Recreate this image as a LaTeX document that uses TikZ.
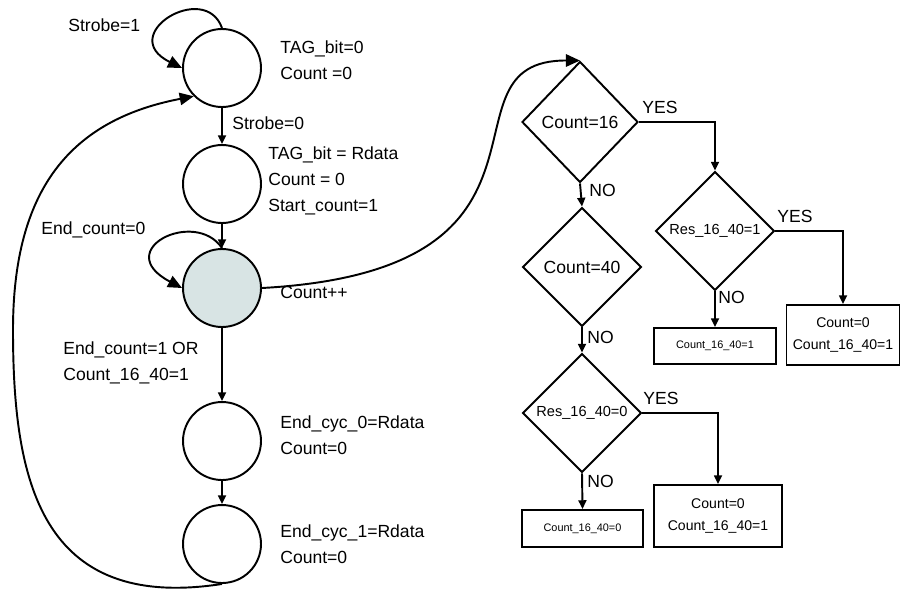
\documentclass[tikz,border=0pt]{standalone}
\usepackage{fontspec}
\setmainfont{Liberation Sans}
\usetikzlibrary{arrows.meta,shapes.geometric}
\definecolor{busyfill}{RGB}{216,228,228}

\begin{document}
\begin{tikzpicture}[
  x=0.02cm, y=-0.02cm,
  state/.style  = {circle, draw, line width=1.1pt, minimum size=1.56cm, inner sep=0pt},
  decide/.style = {diamond, draw, line width=1.1pt, minimum width=2.38cm,
                   minimum height=2.38cm, inner sep=0pt, font=\fontsize{10}{12}\selectfont},
  act/.style    = {draw, line width=1.1pt, inner sep=0pt, align=center},
  lbl/.style    = {anchor=west, align=left, inner sep=0pt, font=\fontsize{10}{14.7}\selectfont},
  wire/.style   = {line width=1.1pt, -{Triangle[length=5pt,width=4.5pt]}},
  bigwire/.style= {line width=1.1pt, -{Triangle[length=8pt,width=7pt]}},
]
\useasboundingbox (0,0) rectangle (901,589);

% ========== State machine (left) ==========
\node[state] (S1) at (222,68) {};
\node[state] (S2) at (222,184) {};
\node[state, fill=busyfill] (S3) at (222,288) {};
\node[state] (S4) at (222,441) {};
\node[state] (S5) at (222,544) {};

\node[lbl] (l1) at (68,25) {Strobe=1};
\node[lbl] (o1) at (280,60.5) {TAG\_bit=0\\Count =0};
\node[lbl] (l2) at (232,123) {Strobe=0};
\node[lbl] (o2) at (268,181) {TAG\_bit = Rdata\\Count = 0\\Start\_count=1};
\node[lbl] (l3) at (41,230) {End\_count=0};
\node[lbl] (l4) at (280,292) {Count++};
\node[lbl] (l5) at (63,363) {End\_count=1 OR\\Count\_16\_40=1};
\node[lbl] (o4) at (280,435.5) {End\_cyc\_0=Rdata\\Count=0};
\node[lbl] (o5) at (280,544) {End\_cyc\_1=Rdata\\Count=0};

\draw[wire] (S1) -- (S2);
\draw[wire] (S2) -- (S3);
\draw[wire] (S3) -- (S4);
\draw[wire] (S4) -- (S5);

% self loops
\draw[bigwire] (S1.north) .. controls (205,-20) and (115,35) .. (S1.west);
\draw[bigwire] (S3.north) .. controls (195,208) and (110,250) .. (S3.west);

% back to idle
\coordinate (far) at (13,330);
\draw[bigwire] (S5.south) .. controls (40,612) and (13,480) .. (far)
  .. controls (13,190) and (70,120) .. (S1.south west);

% ========== Counter checks (right) ==========
\node[decide, minimum width=2.32cm, minimum height=2.42cm] (D1) at (580,122) {Count=16};
\node[decide, font=\fontsize{8.3}{10}\selectfont] (D2) at (715,231) {Res\_16\_40=1};
\node[decide] (D3) at (582,267) {Count=40};
\node[decide, font=\fontsize{8.3}{10}\selectfont] (D4) at (582,413) {Res\_16\_40=0};

\node[act, minimum width=2.44cm, minimum height=0.72cm, font=\fontsize{6.2}{8}\selectfont]
  (B1) at (715,346) {Count\_16\_40=1};
\node[act, minimum width=2.26cm, minimum height=1.2cm, font=\fontsize{8}{12}\selectfont]
  (B2) at (843,335) {Count=0\\Count\_16\_40=1};
\node[act, minimum width=2.42cm, minimum height=0.74cm, font=\fontsize{6.2}{8}\selectfont]
  (B3) at (582.5,528.5) {Count\_16\_40=0};
\node[act, minimum width=2.56cm, minimum height=1.24cm, font=\fontsize{8}{12}\selectfont]
  (B4) at (718,516) {Count=0\\Count\_16\_40=1};

\draw[bigwire] (S3.east) .. controls (590,270) and (430,60) .. (D1.north);

\draw[wire] (D1.south) -- (D3.north);
\draw[wire] (D3.south) -- (D4.north);
\draw[wire] (D1.east) -| (D2.north);
\draw[wire] (D2.east) -| (B2.north);
\draw[wire] (D2.south) -- (B1.north);
\draw[wire] (D4.east) -| (B4.north);
\draw[wire] (D4.south) -- (B3.north);

\node[lbl] (y1) at (642,107) {YES};
\node[lbl] (n1) at (589,190) {NO};
\node[lbl] (y2) at (777,216) {YES};
\node[lbl] (n2) at (718,297) {NO};
\node[lbl] (n3) at (587,337) {NO};
\node[lbl] (y4) at (643,398) {YES};
\node[lbl] (n4) at (587,481) {NO};

\end{tikzpicture}
\end{document}
